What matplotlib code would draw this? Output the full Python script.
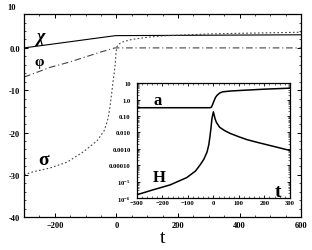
import matplotlib
matplotlib.use("Agg")
import matplotlib.pyplot as plt
from matplotlib.ticker import MultipleLocator, FixedLocator, NullFormatter, LogLocator

plt.rcParams['font.family'] = ['Liberation Serif', 'DejaVu Serif']
plt.rcParams['font.weight'] = 'bold'
plt.rcParams['mathtext.fontset'] = 'custom'
plt.rcParams['mathtext.rm'] = 'Liberation Serif:bold'
plt.rcParams['mathtext.default'] = 'rm'

# --- datos de la figura principal ---
t_chi = [-300, -3, 600]
chi = [0.0, 2.9, 3.1]

t_phi = [-300, -215, -150, -52, -5, 600]
phi = [-6.9, -4.6, -3.3, -1.0, 0.0, 0.0]

t_sigma = [-300, -271, -216, -160, -108, -63, -40, -30, -24, -20, -15, -11, -7, -4.5, -2.5, -1, 2,
           8, 20, 50, 100, 143, 200, 300, 400, 600]
sigma = [-30.0, -29.3, -28.4, -27.0, -24.6, -22.0, -19.6, -17.5, -15.5, -13.5, -10.6, -8.0, -5.9,
         -4.3, -2.6, -0.9, 0.3, 0.9, 1.4, 2.0, 2.5, 2.8, 3.0, 3.3, 3.45, 3.7]

y_ticks = [-40, -30, -20, -10, 0]
y_labels = ["-40", "-30", "-20", "-10", "0.0"]
x_ticks = [-200, 0, 200, 400, 600]

# --- datos del recuadro (escala log) ---
t_a = [-300, -14, -8, -3, 2, 8, 14, 25, 37, 70, 116, 200, 300]
log_a = [-0.5, -0.5, -0.47, -0.3, -0.1, 0.12, 0.25, 0.4, 0.47, 0.52, 0.56, 0.63, 0.69]

t_H = [-300, -237, -170, -104, -70, -53, -38, -25, -18, -14, -10, -6, -3, 0, 3, 7, 12, 25, 45,
       65, 100, 131, 175, 222, 300]
log_H = [-5.8, -5.5, -5.2, -4.75, -4.35, -4.0, -3.65, -3.2, -2.75, -2.3, -1.8, -1.2, -0.95, -0.75,
         -0.95, -1.2, -1.4, -1.7, -1.9, -2.06, -2.27, -2.44, -2.62, -2.8, -3.1]

in_yticks = [10, 1, 0.1, 0.01, 0.001, 0.0001, 1e-5, 1e-6]
in_ylabels = ["10", "1.0", "0.10", "0.010", "0.0010", "0.00010", r"10$^{-5}$", r"10$^{-6}$"]
in_xticks = [-300, -200, -100, 0, 100, 200, 300]

fig = plt.figure(figsize=(3.12, 2.51), dpi=100)
ax = fig.add_axes([0.077, 0.131, 0.888, 0.809])

ax.plot(t_chi, chi, color='black', lw=0.8)
ax.plot(t_phi, phi, color='#444444', lw=0.8, linestyle=(0, (6, 2.5, 1, 2.5)))
ax.plot(t_sigma, sigma, color='#444444', lw=0.8, linestyle=(0, (1.5, 2)))

ax.set_xlim(-300, 600)
ax.set_ylim(-40, 8)
ax.set_xticks(x_ticks)
ax.set_yticks(y_ticks)
ax.set_yticklabels(y_labels)
ax.xaxis.set_minor_locator(MultipleLocator(50))
ax.yaxis.set_minor_locator(MultipleLocator(2))
ax.tick_params(which='both', direction='in', top=True, right=True, labelsize=6, pad=3)
ax.tick_params(which='major', length=3, width=0.7)
ax.tick_params(which='minor', length=1.5, width=0.5)
for s in ax.spines.values():
    s.set_linewidth(0.9)
# etiqueta "10" en el borde superior, como en el original
ax.text(-0.045, 1.035, "10", transform=ax.transAxes, fontsize=6, ha='center', va='center')

ax.set_xlabel("t", fontsize=14, labelpad=0)
ax.text(-248, 2.8, "χ", fontsize=13, fontstyle='italic', ha='center', va='center')
ax.text(-251, -3.3, "φ", fontsize=11, ha='center', va='center')
ax.text(-238, -26.3, "σ", fontsize=14, ha='center', va='center')

# --- recuadro ---
ins = fig.add_axes([0.439, 0.207, 0.490, 0.458])
ins.plot(t_a, [10 ** v for v in log_a], color='black', lw=1.1)
ins.plot(t_H, [10 ** v for v in log_H], color='black', lw=1.1)
ins.set_yscale('log')
ins.set_xlim(-300, 300)
ins.set_ylim(1e-6, 10)
ins.yaxis.set_major_locator(FixedLocator(in_yticks))
ins.set_yticklabels(in_ylabels)
ins.yaxis.set_minor_locator(LogLocator(base=10, subs=range(2, 10)))
ins.yaxis.set_minor_formatter(NullFormatter())
ins.set_xticks(in_xticks)
ins.xaxis.set_minor_locator(MultipleLocator(20))
ins.tick_params(which='both', direction='in', top=True, right=True, labelsize=4.8, pad=1.5)
ins.tick_params(axis='y', which='both', pad=4.5)
ins.tick_params(which='major', length=2.5, width=0.6)
ins.tick_params(which='minor', length=1.2, width=0.4)
for s in ins.spines.values():
    s.set_linewidth(0.9)

ins.text(-218, 0.9, "a", fontsize=12, ha='center', va='center')
ins.text(-212, 1.8e-5, "H", fontsize=12, ha='center', va='center')
ins.text(255, 2.6e-6, "t", fontsize=14, ha='center', va='center')

fig.savefig("out.png", dpi=100)
